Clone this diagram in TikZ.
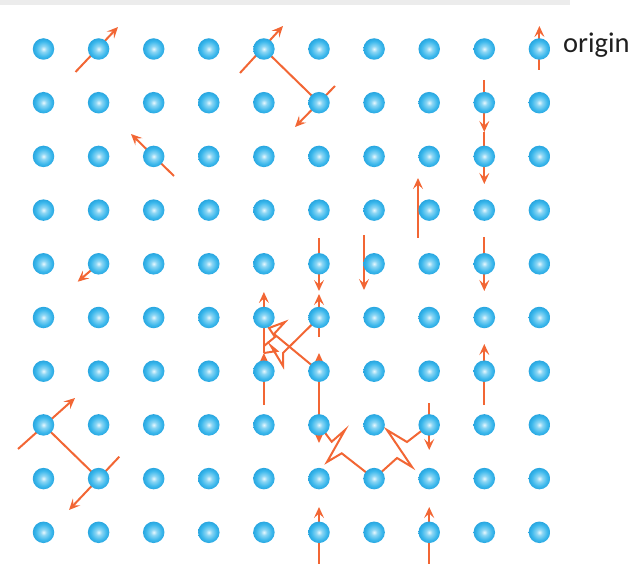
\documentclass[tikz,border=0pt]{standalone}
\usepackage{fontspec}
\setmainfont{Carlito}
\usetikzlibrary{arrows.meta}
\definecolor{arrc}{RGB}{242,102,52}
\definecolor{dotin}{RGB}{232,248,254}
\definecolor{dotmid}{RGB}{140,214,244}
\definecolor{dotout}{RGB}{60,184,236}
\definecolor{dotedge}{RGB}{40,166,224}
\definecolor{wm}{RGB}{236,236,236}
\pgfdeclareradialshading{dotshade}{\pgfpoint{0bp}{0bp}}{color(0bp)=(dotin); color(7bp)=(dotmid); color(18bp)=(dotout); color(25bp)=(dotedge); color(50bp)=(dotedge)}
\tikzset{
  dot/.style={circle, minimum size=21.5pt, inner sep=0pt, shading=dotshade},
  arr/.style={draw=arrc, line width=2pt, -{Stealth[length=11pt,width=10pt,inset=4.5pt]}},
  zz/.style={draw=arrc, line width=2pt, line join=miter},
  lbl/.style={font=\fontsize{28.5}{30}\selectfont, text=black!88, inner sep=0pt}
}
\begin{document}
\begin{tikzpicture}[x=1pt,y=-1pt]
\useasboundingbox (0,0) rectangle (632,564);
% faint watermark strip
\fill[wm] (0,0) rectangle (570,5);
% coordinates of arrow ends
\coordinate (a1s) at (75.5,72);  \coordinate (a1e) at (118,27);
\coordinate (a2s) at (240,73);   \coordinate (a2e) at (283,26);
\coordinate (a4s) at (335,86);   \coordinate (a4e) at (295,127);
\coordinate (a5s) at (174,176);  \coordinate (a5e) at (131,134);
\coordinate (a6s) at (539.4,70); \coordinate (a6e) at (539.4,26);
\coordinate (a7s) at (484.3,80); \coordinate (a7m) at (484.3,132); \coordinate (a7e) at (484.3,184);
\coordinate (a9s) at (418,238);  \coordinate (a9e) at (418,178);
\coordinate (a10s) at (484.3,237); \coordinate (a10e) at (484.3,291);
\coordinate (a11s) at (319,238); \coordinate (a11e) at (319,291);
\coordinate (a12s) at (364,235); \coordinate (a12e) at (364,290);
\coordinate (a13s) at (319,337); \coordinate (a13e) at (319,294);
\coordinate (a14s) at (263.9,405); \coordinate (a14m) at (263.9,353); \coordinate (a14e) at (263.9,292);
\coordinate (a15m) at (319,398); \coordinate (a15u) at (319,353); \coordinate (a15d) at (319,443);
\coordinate (a16s) at (484.3,405); \coordinate (a16e) at (484.3,344);
\coordinate (a17s) at (429.2,403); \coordinate (a17e) at (429.2,450);
\coordinate (a18s) at (319,564); \coordinate (a18e) at (319,507);
\coordinate (a19s) at (429.2,564); \coordinate (a19e) at (429.2,507);
\coordinate (a20s) at (98.6,263.8); \coordinate (a20e) at (77.7,281.7);
\coordinate (a21s) at (18,449);  \coordinate (a21e) at (75,398);
\coordinate (a23s) at (119.3,456.7); \coordinate (a23e) at (69,510);
% dot positions
\foreach \c in {0,...,9}{\foreach \r in {0,...,9}{
  \coordinate (p\c\r) at ({43.5+55.1*\c},{49+53.7*\r});}}
% arrows
\draw[arr] (a1s) -- (a1e);
\draw[arr] (a2s) -- (a2e);
\draw[zz] (p40) -- (p51);
\draw[arr] (a4s) -- (a4e);
\draw[arr] (a5s) -- (a5e);
\draw[arr] (a6s) -- (a6e);
\draw[arr] (a7s) -- (a7m);
\draw[arr] (a7m) -- (a7e);
\draw[arr] (a9s) -- (a9e);
\draw[arr] (a10s) -- (a10e);
\draw[arr] (a11s) -- (a11e);
\draw[arr] (a12s) -- (a12e);
\draw[arr] (a13s) -- (a13e);
\draw[arr] (a14s) -- (a14m);
\draw[arr] (a14m) -- (a14e);
\draw[arr] (a15m) -- (a15u);
\draw[arr] (a15m) -- (a15d);
\draw[arr] (a16s) -- (a16e);
\draw[arr] (a17s) -- (a17e);
\draw[arr] (a18s) -- (a18e);
\draw[arr] (a19s) -- (a19e);
\draw[arr] (a20s) -- (a20e);
\draw[arr] (a21s) -- (a21e);
\draw[zz] (p07) -- (p18);
\draw[arr] (a23s) -- (a23e);
% zigzags
\draw[zz] (p56) -- (274,334) -- (285,322) -- (269,328) -- (275,337) -- (264,346);
\draw[zz] (p55) -- (283,353) -- (283,366) -- (271,346) -- (277,351) -- (264,353);
\draw[zz] (p57) -- (331.7,441.7) -- (345,430) -- (327,462) -- (341.7,453.3) -- (p68);
\draw[zz] (p68) -- (397,458) -- (412,467) -- (387,430) -- (407,442) -- (p77);
% dots
\foreach \c in {0,...,9}{\foreach \r in {0,...,9}{
  \node[dot] (d\c\r) at (p\c\r) {};}}
% label
\node[lbl, anchor=base west] (origin) at (563,53) {origin};
\end{tikzpicture}
\end{document}
